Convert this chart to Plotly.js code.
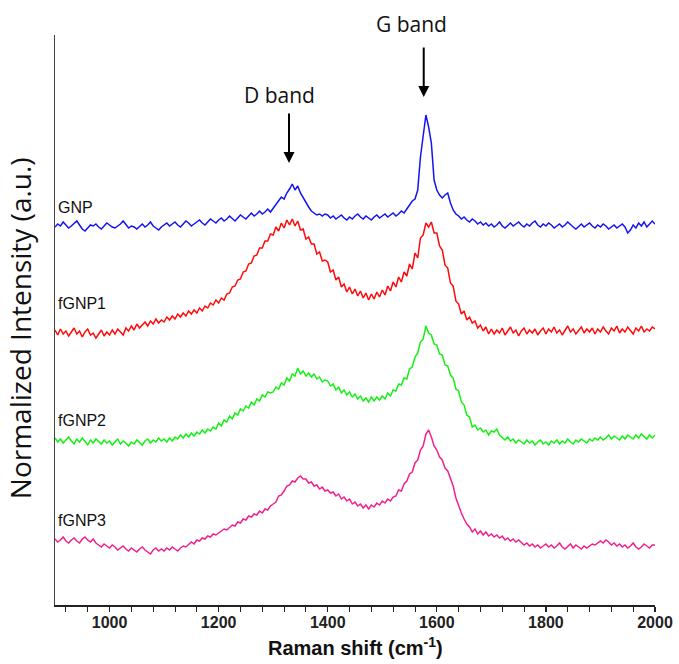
<!DOCTYPE html>
<html>
<head>
<meta charset="utf-8">
<script src="https://cdn.plot.ly/plotly-3.0.1.min.js"></script>
<style>html,body{margin:0;padding:0;background:#fff;}#chart{width:679px;height:664px;}</style>
</head>
<body>
<div id="chart"></div>
<script>
// Raman shift (cm-1), 5 cm-1 steps
const shift = [
900,905,910,915,920,925,930,935,940,945,950,955,960,965,970,975,980,985,990,995,
1000,1005,1010,1015,1020,1025,1030,1035,1040,1045,1050,1055,1060,1065,1070,1075,1080,1085,1090,1095,
1100,1105,1110,1115,1120,1125,1130,1135,1140,1145,1150,1155,1160,1165,1170,1175,1180,1185,1190,1195,
1200,1205,1210,1215,1220,1225,1230,1235,1240,1245,1250,1255,1260,1265,1270,1275,1280,1285,1290,1295,
1300,1305,1310,1315,1320,1325,1330,1335,1340,1345,1350,1355,1360,1365,1370,1375,1380,1385,1390,1395,
1400,1405,1410,1415,1420,1425,1430,1435,1440,1445,1450,1455,1460,1465,1470,1475,1480,1485,1490,1495,
1500,1505,1510,1515,1520,1525,1530,1535,1540,1545,1550,1555,1560,1565,1570,1575,1580,1585,1590,1595,
1600,1605,1610,1615,1620,1625,1630,1635,1640,1645,1650,1655,1660,1665,1670,1675,1680,1685,1690,1695,
1700,1705,1710,1715,1720,1725,1730,1735,1740,1745,1750,1755,1760,1765,1770,1775,1780,1785,1790,1795,
1800,1805,1810,1815,1820,1825,1830,1835,1840,1845,1850,1855,1860,1865,1870,1875,1880,1885,1890,1895,
1900,1905,1910,1915,1920,1925,1930,1935,1940,1945,1950,1955,1960,1965,1970,1975,1980,1985,1990,1995,
2000];

// Normalized intensity with vertical offsets (arbitrary units)
const gnp = [
378,381,379,383,380,377,379,382,384,380,376,374,377,380,379,381,378,376,379,382,
380,378,377,379,381,384,380,377,379,378,376,379,381,378,380,383,379,377,375,378,
380,382,379,381,383,380,378,381,384,382,379,381,383,385,382,380,383,386,384,382,
385,387,384,386,389,386,384,387,390,388,386,389,392,389,391,394,391,393,396,393,
397,401,404,408,406,412,416,421,415,419,412,407,402,398,394,392,390,391,389,391,
390,387,389,386,388,390,387,385,388,386,389,391,388,386,389,387,385,388,390,387,
389,391,388,390,392,389,391,394,392,396,400,404,406,415,448,472,490,478,462,425,
415,410,407,410,412,402,395,391,389,386,388,385,383,386,384,381,383,380,382,379,
381,378,380,383,379,377,380,382,379,381,383,380,378,381,379,382,384,380,378,381,
379,382,380,377,379,381,378,380,383,380,378,376,379,381,378,380,382,379,377,380,
378,381,379,376,378,380,377,379,381,378,372,375,380,377,382,379,383,378,381,384,
381];

const fgnp1 = [
275,270,276,271,274,269,273,277,271,274,268,273,276,270,272,267,271,275,269,273,
270,275,271,276,273,270,277,274,279,275,281,277,280,283,279,284,281,286,282,285,
283,288,285,289,286,291,288,292,289,294,291,295,292,297,294,299,297,302,300,305,
302,307,305,311,312,318,319,325,326,333,334,341,342,349,350,357,357,364,364,371,
370,378,374,382,377,385,380,386,379,384,375,376,366,368,361,361,351,353,344,345,
343,333,335,325,328,318,321,313,318,311,316,309,314,307,312,305,311,306,313,308,
315,310,319,314,323,318,328,323,333,329,341,336,352,347,367,370,382,378,383,372,
372,359,355,340,337,322,319,304,301,291,294,285,288,282,284,277,280,274,278,271,
276,271,275,272,277,270,274,278,272,275,269,274,277,271,275,272,276,270,274,277,
271,276,273,278,272,275,270,274,279,273,276,271,275,278,272,276,273,277,271,276,
273,278,274,271,277,274,279,272,276,273,278,275,271,277,274,279,273,276,274,278,
276];

const fgnp2 = [
167,163,166,162,165,168,164,161,166,163,167,164,160,165,162,166,163,161,165,162,
164,160,163,166,161,164,162,159,163,161,165,162,160,164,166,162,165,163,167,164,
166,163,167,164,168,166,170,167,171,168,172,169,173,171,175,172,176,174,178,176,
182,179,185,183,189,186,192,190,196,194,199,197,203,200,206,204,210,208,213,212,
213,218,216,222,220,227,224,231,229,237,231,234,229,232,228,231,226,228,223,225,
224,219,221,215,218,212,215,210,213,208,211,206,209,204,207,203,208,204,208,205,
209,206,212,209,215,214,221,220,227,226,236,238,248,252,263,266,279,272,270,261,
260,251,250,240,239,230,227,216,214,203,200,190,188,178,180,175,177,173,175,170,
174,173,176,170,167,165,168,164,166,162,165,163,161,165,162,164,160,163,165,161,
163,160,164,162,165,161,164,162,166,163,161,165,163,166,164,162,166,164,167,165,
168,165,167,170,166,169,167,165,169,166,170,168,166,170,167,171,168,166,170,167,
170];

const fgnp3 = [
66,63,65,68,64,62,65,67,64,62,66,68,65,63,66,62,60,58,61,59,
57,60,58,55,57,59,56,54,57,55,53,56,58,55,53,51,55,57,54,56,
54,57,55,58,56,54,57,59,58,61,63,61,65,64,67,66,69,68,71,70,
72,74,76,75,78,80,79,83,82,86,85,89,88,91,90,94,92,96,95,99,
101,103,109,110,114,119,120,124,123,127,129,126,126,122,123,119,120,116,118,114,
115,112,113,109,111,106,108,104,106,101,103,99,101,97,100,96,100,98,102,100,
104,102,106,104,108,109,115,114,121,124,131,133,142,145,155,159,171,175,168,159,
155,148,145,137,134,126,119,107,99,92,86,81,78,73,76,71,74,70,73,69,
71,68,70,67,69,65,67,64,66,63,65,62,60,62,59,61,58,60,57,59,
61,58,60,57,59,62,58,56,59,61,57,60,58,56,59,57,59,61,60,62,
64,62,65,63,60,62,59,61,58,60,57,59,62,58,56,58,61,59,57,60,
60];

const sampleNames = ['GNP', 'fGNP1', 'fGNP2', 'fGNP3'];
const labelLevels = [398, 302, 185, 85];
const bandNames = ['D band', 'G band'];
const bandShifts = [1329, 1576];
const bandTips = [442, 508];

const series = [gnp, fgnp1, fgnp2, fgnp3];
const colors = ['#1414f0', '#ff0a0a', '#14f014', '#f0208c'];

const traces = series.map((s, i) => ({
  x: shift, y: s, type: 'scatter', mode: 'lines', name: sampleNames[i],
  line: {color: colors[i], width: 1.5}, hoverinfo: 'skip'
}));

const annotations = [];
sampleNames.forEach((n, i) => {
  annotations.push({x: 902, y: labelLevels[i], xref: 'x', yref: 'y', text: n,
    showarrow: false, xanchor: 'left', yanchor: 'middle',
    font: {family: 'Liberation Sans, Arial, sans-serif', size: 16, color: '#111'}});
});
bandNames.forEach((n, i) => {
  annotations.push({x: bandShifts[i], y: bandTips[i], xref: 'x', yref: 'y', text: '',
    showarrow: true, ax: 0, ay: -51, arrowhead: 2, arrowsize: 1.1, arrowwidth: 2, arrowcolor: '#000'});
});
annotations.push({x: 1311, y: 510, xref: 'x', yref: 'y', text: bandNames[0], showarrow: false,
  font: {family: 'Open Sans, sans-serif', size: 21, color: '#111'}});
annotations.push({x: 0.594, y: 1.019, xref: 'paper', yref: 'paper', text: bandNames[1], showarrow: false,
  xanchor: 'center', yanchor: 'middle',
  font: {family: 'Open Sans, sans-serif', size: 21, color: '#111'}});
annotations.push({x: -0.058, y: 0.486, xref: 'paper', yref: 'paper', text: 'Normalized Intensity (a.u.)',
  textangle: -90, showarrow: false, xanchor: 'center', yanchor: 'middle',
  font: {family: 'Open Sans, sans-serif', size: 28, color: '#111'}});
annotations.push({x: 0.5, y: -0.072, xref: 'paper', yref: 'paper', text: '<b>Raman shift (cm<sup>-1</sup>)</b>',
  showarrow: false, xanchor: 'center', yanchor: 'middle',
  font: {family: 'Liberation Sans Narrow, Liberation Sans, Arial, sans-serif', size: 20, color: '#111'}});

const layout = {
  width: 679, height: 664,
  margin: {l: 55, r: 24, t: 35, b: 59},
  paper_bgcolor: '#fff', plot_bgcolor: '#fff',
  showlegend: false,
  xaxis: {
    range: [900, 2000], showline: true, linecolor: '#222', linewidth: 1.5,
    ticks: 'outside', ticklen: 5, tickwidth: 1.2, tickcolor: '#222',
    tick0: 1000, dtick: 200,
    minor: {dtick: 40, ticks: 'outside', ticklen: 5, tickwidth: 1, tickcolor: '#222'},
    showgrid: false, zeroline: false, ticklabelstandoff: -3,
    tickfont: {family: 'Liberation Sans Narrow, Liberation Sans, Arial, sans-serif', size: 16, color: '#222', weight: 'bold'}
  },
  yaxis: {
    range: [0, 570], showline: true, linecolor: '#444', linewidth: 1.5,
    showticklabels: false, ticks: '', showgrid: false, zeroline: false
  },
  annotations: annotations
};

Plotly.newPlot('chart', traces, layout, {displayModeBar: false, staticPlot: true});
</script>
</body>
</html>
